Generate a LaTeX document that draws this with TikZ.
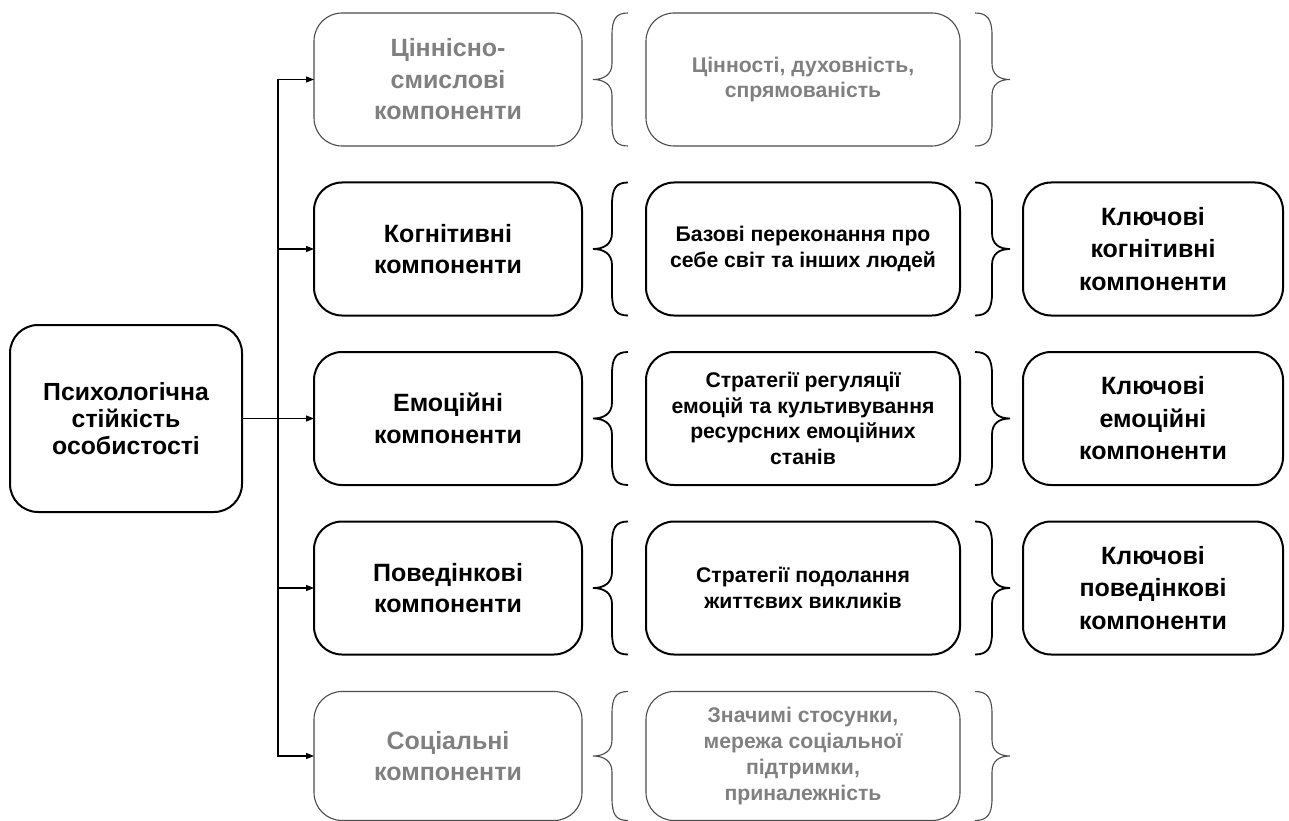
\documentclass[tikz,border=0pt]{standalone}
\usepackage{fontspec}
\setmainfont{Liberation Sans}
\usetikzlibrary{arrows.meta}

\begin{document}
\begin{tikzpicture}[x=1pt,y=-1pt,
  box/.style={rounded corners=28pt, align=center, inner sep=0pt, outer sep=0pt},
  dark/.style={box, draw=black, line width=2pt, text=black},
  pale/.style={box, draw=black!70, line width=1.1pt, text=black!50},
  compbox/.style={minimum width=268pt, minimum height=133pt, font=\bfseries\fontsize{25}{31.5}\selectfont},
  contbox/.style={minimum width=314pt, minimum height=133pt, font=\bfseries\fontsize{21.2}{25.7}\selectfont},
  keybox/.style={minimum width=260pt, minimum height=133pt, font=\bfseries\fontsize{25}{32.5}\selectfont},
  darkpen/.style={draw=black, line width=1.8pt},
  palepen/.style={draw=black!70, line width=1.1pt},
  arr/.style={black, line width=1.1pt, -{Triangle[length=8pt, width=6pt]}}]
\useasboundingbox (0,0) rectangle (1289,821);

\node[dark, minimum width=232pt, minimum height=187pt, font=\bfseries\fontsize{24.8}{27}\selectfont]
  (root) at (126,418.5) {Психологічна\\стійкість\\особистості};

\node[pale, compbox] (val) at (448,79.5) {Ціннісно-\\смислові\\компоненти};
\node[dark, compbox] (cog) at (448,249) {Когнітивні\\компоненти};
\node[dark, compbox] (emo) at (448,418.5) {Емоційні\\компоненти};
\node[dark, compbox] (beh) at (448,588) {Поведінкові\\компоненти};
\node[pale, compbox, minimum height=129pt] (soc) at (448,756) {Соціальні\\компоненти};

\node[pale, contbox] (valtext) at (803,79.5) {Цінності, духовність,\\спрямованість};
\node[dark, contbox] (cogtext) at (803,249) {Базові переконання про\\себе світ та інших людей};
\node[dark, contbox] (emotext) at (803,418.5) {Стратегії регуляції\\емоцій та культивування\\ресурсних емоційних\\станів};
\node[dark, contbox] (behtext) at (803,588) {Стратегії подолання\\життєвих викликів};
\node[pale, contbox, minimum height=129pt] (soctext) at (803,756) {Значимі стосунки,\\мережа соціальної\\підтримки,\\приналежність};

\node[dark, keybox] (cogkey) at (1153,249) {Ключові\\когнітивні\\компоненти};
\node[dark, keybox] (emokey) at (1153,418.5) {Ключові\\емоційні\\компоненти};
\node[dark, keybox] (behkey) at (1153,588) {Ключові\\поведінкові\\компоненти};

\coordinate (trunk) at (278,418.5);
\draw[arr] (root) -- (emo);
\foreach \n in {val,cog,beh,soc}
  \draw[arr] (trunk) |- (\n.west);

\foreach \m/\h/\s in {79.5/66.5/palepen, 249/66.5/darkpen, 418.5/66.5/darkpen, 588/66.5/darkpen, 756/64.5/palepen} {
  \draw[\s] (628,\m-\h) .. controls (616,\m-\h) and (612,\m-\h+6) .. (612,\m-\h+22) -- (612,\m-16)
    .. controls (612,\m-5) and (604,\m) .. (593,\m) .. controls (604,\m) and (612,\m+5) .. (612,\m+16)
    -- (612,\m+\h-22) .. controls (612,\m+\h-6) and (616,\m+\h) .. (628,\m+\h);
  \draw[\s] (975,\m-\h) .. controls (987,\m-\h) and (992,\m-\h+6) .. (992,\m-\h+22) -- (992,\m-16)
    .. controls (992,\m-5) and (999,\m) .. (1010,\m) .. controls (999,\m) and (992,\m+5) .. (992,\m+16)
    -- (992,\m+\h-22) .. controls (992,\m+\h-6) and (987,\m+\h) .. (975,\m+\h);
}
\end{tikzpicture}
\end{document}
